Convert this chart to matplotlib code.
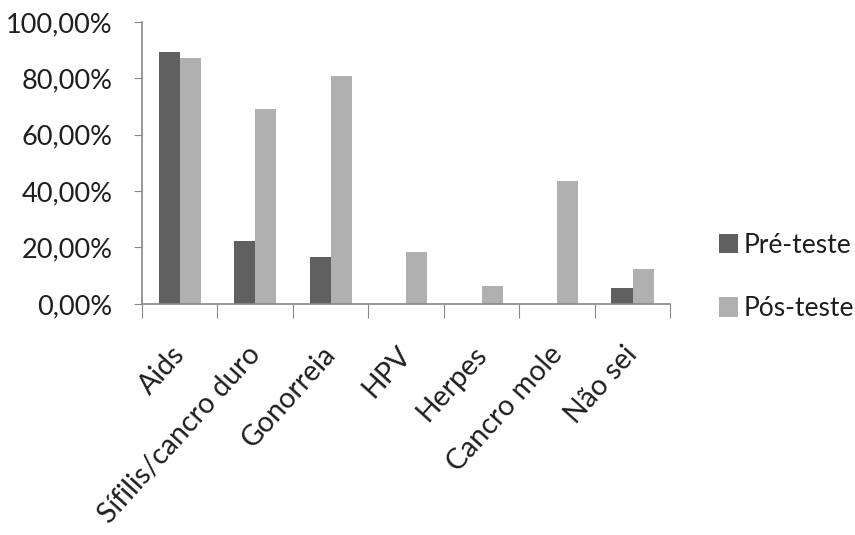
import numpy as np
import matplotlib
matplotlib.use('Agg')
import matplotlib.pyplot as plt

categories = ['Aids', 'Sífilis/cancro duro', 'Gonorreia', 'HPV', 'Herpes', 'Cancro mole', 'Não sei']
pre_teste = [89.2, 22.3, 16.8, 0.0, 0.0, 0.0, 5.6]
pos_teste = [87.3, 69.0, 81.0, 18.5, 6.4, 43.7, 12.4]
y_ticks = [0, 20, 40, 60, 80, 100]

plt.rcParams['font.family'] = ['Lato', 'DejaVu Sans']

fig = plt.figure(figsize=(8.55, 5.35), dpi=100)
ax = fig.add_axes([0.166, 0.432, 0.618, 0.527])

x = np.arange(len(categories))
w = 0.28
ax.bar(x - w / 2, pre_teste, w, color='#606060', label='Pré-teste')
ax.bar(x + w / 2, pos_teste, w, color='#b0b0b0', label='Pós-teste')

ax.set_xlim(-0.5, len(categories) - 0.5)
ax.set_ylim(0, 100)
ax.set_yticks(y_ticks)
ax.set_yticklabels(['%d,00%%' % v for v in y_ticks], fontsize=19.5, color='#1e1e1e')

# boundaries as major ticks, labels on minor ticks near the centres
ax.set_xticks(np.arange(len(categories) + 1) - 0.5)
ax.set_xticklabels([])
ax.set_xticks(x - 0.12, minor=True)
ax.set_xticklabels(categories, minor=True, rotation=48, ha='right', va='top',
                   rotation_mode='anchor', fontsize=20.5, color='#1e1e1e')
ax.tick_params(axis='x', which='major', length=10, color='#888888', direction='out')
ax.tick_params(axis='x', which='minor', length=0, pad=27)
ax.tick_params(axis='y', length=6, color='#888888', direction='out', pad=15)

for s in ['top', 'right']:
    ax.spines[s].set_visible(False)
for s in ['left', 'bottom']:
    ax.spines[s].set_color('#888888')
    ax.spines[s].set_linewidth(1.2)

fig.legend(loc='center left', bbox_to_anchor=(0.841, 0.482), frameon=False,
           fontsize=19, labelspacing=1.45, handlelength=0.7, handleheight=0.75,
           handletextpad=0.25, borderpad=0, borderaxespad=0, labelcolor='#1e1e1e')

plt.savefig('out.png', dpi=100)
